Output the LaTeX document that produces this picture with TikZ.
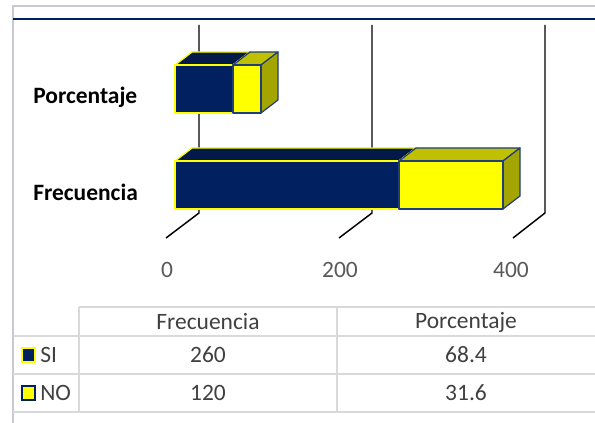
\documentclass[tikz,border=0pt]{standalone}
\usepackage{fontspec}
\setmainfont{Carlito}
\definecolor{navy}{HTML}{002060}
\definecolor{navytop}{HTML}{011A4A}
\definecolor{yel}{HTML}{FFFF00}
\definecolor{yeltop}{HTML}{C0C000}
\definecolor{yelside}{HTML}{A5A500}
\definecolor{yelline}{HTML}{1F3F7A}
\definecolor{framegrey}{HTML}{C8C9D2}
\definecolor{tabgrey}{HTML}{D9D9D9}
\definecolor{txtgrey}{HTML}{404040}
\definecolor{axgrey}{HTML}{595959}
\tikzset{
  gridline/.style={black, line width=1.1pt},
  sipart/.style={draw=yel, line width=1pt, line join=round},
  nopart/.style={draw=yelline, line width=0.9pt, line join=round},
  tabline/.style={tabgrey, line width=1.3pt},
  cattext/.style={font=\fontsize{17.6}{20}\selectfont\bfseries, text=black, anchor=west, inner sep=0pt},
  axtext/.style={font=\fontsize{17.6}{20}\selectfont, text=axgrey, inner sep=0pt},
  tabtext/.style={font=\fontsize{17.6}{20}\selectfont, text=txtgrey, inner sep=0pt},
}
% 3D box: #1 x-left, #2 x-right, #3 y-top, #4 y-bottom, #5 style, #6 front, #7 top, #8 side
\newcommand\barbox[8]{%
  \filldraw[#5, fill=#7] (#1,#3) -- ++(17,-13) -- (#2+17,#3-13) -- (#2,#3) -- cycle;
  \filldraw[#5, fill=#8] (#2,#3) -- ++(17,-13) -- (#2+17,#4-13) -- (#2,#4) -- cycle;
  \filldraw[#5, fill=#6] (#1,#3) rectangle (#2,#4);
}
\begin{document}
\begin{tikzpicture}[x=0.75pt,y=-0.75pt]
\useasboundingbox (0,0) rectangle (595,423);
\fill[white] (0,0) rectangle (595,423);
% frame
\draw[framegrey, line width=1pt] (13,423) -- (13,6) -- (595,6);
\draw[navy, line width=1.6pt] (13,19) -- (595,19);
% gridlines (back wall and floor)
\foreach \bx/\fx in {199/166, 372/339, 545/513}{
  \draw[gridline] (\bx,25) -- (\bx,213) -- (\fx,238);
}
% Porcentaje bar
\barbox{175}{233}{65}{113}{sipart}{navy}{navytop}{navytop}
\barbox{233}{261}{65}{113}{nopart}{yel}{yeltop}{yelside}
% Frecuencia bar
\barbox{175}{399}{161}{209}{sipart}{navy}{navytop}{navytop}
\barbox{399}{503}{161}{209}{nopart}{yel}{yeltop}{yelside}
% category labels
\node[cattext] (lp) at (33,97) {Porcentaje};
\node[cattext] (lf) at (33,192) {Frecuencia};
% axis labels
\node[axtext] (a0) at (167,270) {0};
\node[axtext] (a200) at (340,270) {200};
\node[axtext] (a400) at (511,270) {400};
% data table
\draw[tabline] (79,307) -- (595,307);
\draw[tabline] (13,336) -- (595,336);
\draw[tabline] (13,374) -- (595,374);
\draw[tabline] (13,412) -- (595,412);
\draw[tabline] (79,307) -- (79,412);
\draw[tabline] (337,307) -- (337,412);
\node[tabtext] (hf) at (208,322) {Frecuencia};
\node[tabtext] (hp) at (466,322) {Porcentaje};
\draw[draw=yel, fill=navy, line width=1pt] (22,348) rectangle (35,362);
\draw[draw=navy, fill=yel, line width=1pt] (22,386) rectangle (35,400);
\node[tabtext, anchor=west] (si) at (40,355) {SI};
\node[tabtext, anchor=west] (no) at (40,393) {NO};
\node[tabtext] (v1) at (208,355) {260};
\node[tabtext] (v2) at (466,355) {68.4};
\node[tabtext] (v3) at (208,393) {120};
\node[tabtext] (v4) at (466,393) {31.6};
\end{tikzpicture}
\end{document}
